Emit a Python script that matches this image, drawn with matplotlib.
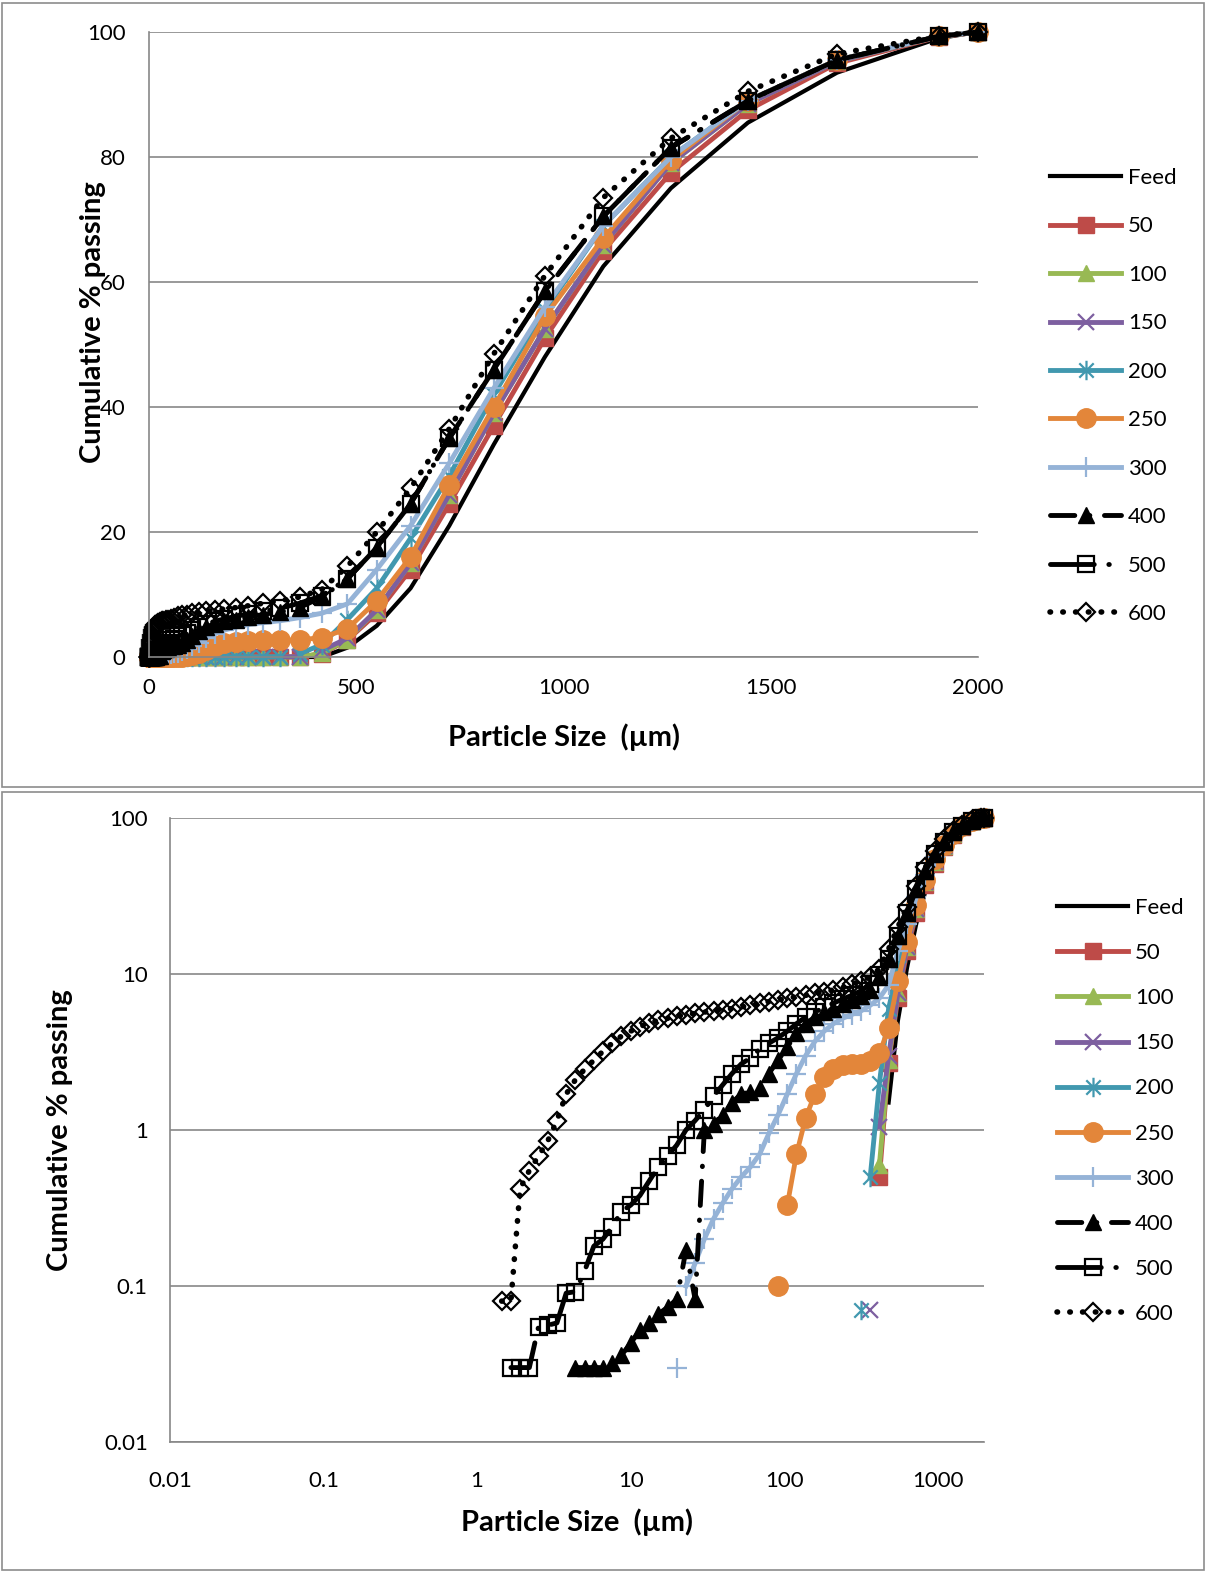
import numpy as np
import matplotlib
matplotlib.use("Agg")
import matplotlib.pyplot as plt
from matplotlib.path import Path
from matplotlib.patches import Rectangle

# particle size classes (um), shared by every sample
sizes = [0.479, 0.550, 0.631, 0.724, 0.832, 0.955, 1.096, 1.259, 1.445, 1.660,
         1.905, 2.188, 2.512, 2.884, 3.311, 3.802, 4.365, 5.012, 5.754, 6.607,
         7.586, 8.710, 10.00, 11.48, 13.18, 15.14, 17.38, 19.95, 22.91, 26.30,
         30.20, 34.67, 39.81, 45.71, 52.48, 60.26, 69.18, 79.43, 91.20, 104.7,
         120.2, 138.0, 158.5, 182.0, 208.9, 239.9, 275.4, 316.2, 363.1, 416.9,
         478.6, 549.5, 631.0, 724.4, 831.8, 955.0, 1096, 1259, 1445, 1660,
         1905, 2000]

# cumulative % passing, from the first non-zero class up to 2000 um
feed = [1.5, 5, 11, 21, 34, 48, 62.5, 75, 85.5, 93.5, 99, 100]
s50 = [0.5, 2.7, 7, 14, 24.5, 37, 51, 65, 77.5, 87.5, 95, 99.2, 100]
s100 = [0.6, 2.8, 7.5, 15, 26, 39, 52.5, 66, 79, 88.5, 95.3, 99.3, 100]
s150 = [0.07, 1.05, 3.0, 7.5, 15, 26, 39, 52.5, 66, 79, 88.5, 95.3, 99.3, 100]
s200 = [0.07, 0.5, 2.0, 6, 11, 19, 29, 42, 55.5, 69, 80, 89, 95.5, 99.3, 100]
s250 = [0.1, 0.33, 0.7, 1.2, 1.7, 2.2, 2.45, 2.6, 2.65, 2.65, 2.75, 3.1, 4.5,
        9, 16, 27.5, 40, 54.5, 67, 79.5, 89, 95.5, 99.3, 100]
s300 = [0.03, 0.1, 0.14, 0.2, 0.27, 0.34, 0.42, 0.5, 0.58, 0.7, 0.95, 1.25,
        1.7, 2.3, 3.0, 3.7, 4.3, 4.8, 5.2, 5.5, 5.8, 6.3, 7.0, 8.5, 14, 21,
        31, 43, 56, 69, 80, 89, 95.5, 99.3, 100]
s400 = [0.03, 0.03, 0.03, 0.03, 0.032, 0.036, 0.043, 0.052, 0.058, 0.066,
        0.073, 0.082, 0.17, 0.082, 1.0, 1.1, 1.25, 1.5, 1.7, 1.75, 1.85, 2.3,
        2.8, 3.4, 4.2, 4.8, 5.3, 5.7, 6.0, 6.4, 6.8, 7.2, 7.9, 9.6, 12.5, 17.5,
        24.5, 35, 46, 58.5, 70.5, 81.5, 89, 95.5, 99.3, 100]
s500 = [0.03, 0.03, 0.03, 0.055, 0.056, 0.058, 0.09, 0.092, 0.125, 0.18, 0.2,
        0.24, 0.3, 0.33, 0.38, 0.47, 0.58, 0.68, 0.8, 1.0, 1.15, 1.35, 1.65,
        1.95, 2.3, 2.65, 2.9, 3.3, 3.6, 3.9, 4.3, 4.8, 5.3, 5.7, 6.1, 6.5, 6.9,
        7.3, 7.8, 8.6, 9.8, 12.5, 17.5, 24.5, 35, 46, 58.5, 70.5, 81.5, 89,
        95.5, 99.3, 100]
s600 = [0.08, 0.08, 0.42, 0.55, 0.68, 0.85, 1.15, 1.7, 2.1, 2.45, 2.8, 3.2,
        3.6, 4.0, 4.3, 4.6, 4.85, 5.05, 5.2, 5.35, 5.5, 5.6, 5.7, 5.8, 5.9,
        6.0, 6.15, 6.3, 6.5, 6.65, 6.8, 7.0, 7.15, 7.3, 7.5, 7.7, 7.9, 8.2,
        8.6, 9.0, 9.6, 10.8, 14.5, 20, 27, 36.5, 48.5, 61, 73.5, 83, 90.5,
        96.5, 99.4, 100]

labels = ["Feed", "50", "100", "150", "200", "250", "300", "400", "500", "600"]
values = [feed, s50, s100, s150, s200, s250, s300, s400, s500, s600]

# first point of these samples is not joined to the rest of the curve
gap_after = {"150": 363.1, "200": 316.2, "250": 91.2, "300": 19.95}

# asterisk marker (x with a vertical bar)
star = Path([(-1, -1), (1, 1), (-1, 1), (1, -1), (0, -1.35), (0, 1.35)],
            [Path.MOVETO, Path.LINETO, Path.MOVETO, Path.LINETO, Path.MOVETO, Path.LINETO])

styles = {
    "Feed": dict(color="black", lw=3.0, marker=None),
    "50": dict(color="#BE4B48", lw=3.5, marker="s", ms=12),
    "100": dict(color="#98B954", lw=3.5, marker="^", ms=12),
    "150": dict(color="#7D5FA0", lw=3.5, marker="x", ms=12, mew=1.6),
    "200": dict(color="#4198AF", lw=3.5, marker=star, ms=14, mew=1.6),
    "250": dict(color="#E3863A", lw=3.5, marker="o", ms=14),
    "300": dict(color="#95B3D7", lw=3.5, marker="+", ms=15, mew=1.6),
    "400": dict(color="black", lw=3.5, marker="^", ms=12,
                ls=(0, (5, 3, 0.1, 3)), dash_capstyle="round"),
    "500": dict(color="black", lw=3.5, marker="s", ms=12, mfc="none", mew=1.6,
                ls=(0, (9, 3, 0.1, 3)), dash_capstyle="round"),
    "600": dict(color="black", lw=4.0, marker="D", ms=9, mfc="none", mew=1.6,
                ls=(0, (0.1, 2.2)), dash_capstyle="round"),
}


def series_xy(name, vals):
    y = [0.0] * (len(sizes) - len(vals)) + list(vals)
    x = list(sizes)
    if name in gap_after:
        i = x.index(gap_after[name]) + 1
        x.insert(i, np.nan)
        y.insert(i, np.nan)
    return x, y


plt.rcParams["font.family"] = ["Lato", "DejaVu Sans"]
W, H = 1207, 1573
fig = plt.figure(figsize=(W / 100, H / 100), dpi=100)

# chart area borders
for top, bot in [(3, 787), (792, 1570)]:
    fig.add_artist(Rectangle((2 / W, 1 - bot / H), (W - 5) / W, (bot - top) / H,
                             transform=fig.transFigure, fill=False,
                             edgecolor="#8c8c8c", lw=1.2))

ax1 = fig.add_axes([149 / W, 1 - 657 / H, 829 / W, 625 / H])
ax2 = fig.add_axes([170 / W, 1 - 1442 / H, 814 / W, 624 / H])

grid_col = "#878787"
for ax in (ax1, ax2):
    for name, vals in zip(labels, values):
        x, y = series_xy(name, vals)
        st = dict(styles[name])
        ax.plot(x, y, label=name, clip_on=False, **st)
    for side in ("top", "right"):
        ax.spines[side].set_visible(False)
    for side in ("left", "bottom"):
        ax.spines[side].set_color(grid_col)
        ax.spines[side].set_linewidth(1.2)
    ax.yaxis.grid(True, color=grid_col, lw=1.2)
    ax.set_axisbelow(True)
    ax.tick_params(length=0, labelsize=16, colors="black")

# linear chart
ax1.set_xlim(0, 2000)
ax1.set_ylim(0, 100)
ax1.set_xticks([0, 500, 1000, 1500, 2000])
ax1.set_yticks([0, 20, 40, 60, 80, 100])
ax1.tick_params(axis="y", pad=17)
ax1.tick_params(axis="x", pad=15)

# log-log chart
ax2.set_xscale("log", nonpositive="mask")
ax2.set_yscale("log", nonpositive="mask")
ax2.set_xlim(0.01, 2000)
ax2.set_ylim(0.01, 100)
ax2.set_xticks([0.01, 0.1, 1, 10, 100, 1000], ["0.01", "0.1", "1", "10", "100", "1000"])
ax2.set_yticks([0.01, 0.1, 1, 10, 100], ["0.01", "0.1", "1", "10", "100"])
ax2.minorticks_off()
ax2.tick_params(axis="y", pad=16)
ax2.tick_params(axis="x", pad=21)

for ax, ylab_x, ylab_y in [(ax1, -0.068, 0.536), (ax2, -0.135, 0.5)]:
    ax.set_xlabel("Particle Size  (\u00b5m)", fontsize=21, fontweight="bold", va="center")
    ax.xaxis.set_label_coords(0.5, -0.128)
    ax.set_ylabel("Cumulative % passing", fontsize=21, fontweight="bold", va="center")
    ax.yaxis.set_label_coords(ylab_x, ylab_y)

ax1.legend(loc="upper left", bbox_to_anchor=(1050 / W, 1 - 168 / H),
           bbox_transform=fig.transFigure, frameon=False, fontsize=16,
           handlelength=3.2, handletextpad=0.3, labelspacing=1.28,
           numpoints=1, borderaxespad=0, borderpad=0)
ax2.legend(loc="upper left", bbox_to_anchor=(1057 / W, 1 - 898 / H),
           bbox_transform=fig.transFigure, frameon=False, fontsize=16,
           handlelength=3.2, handletextpad=0.3, labelspacing=1.13,
           numpoints=1, borderaxespad=0, borderpad=0)

fig.savefig("out.png", dpi=100)
